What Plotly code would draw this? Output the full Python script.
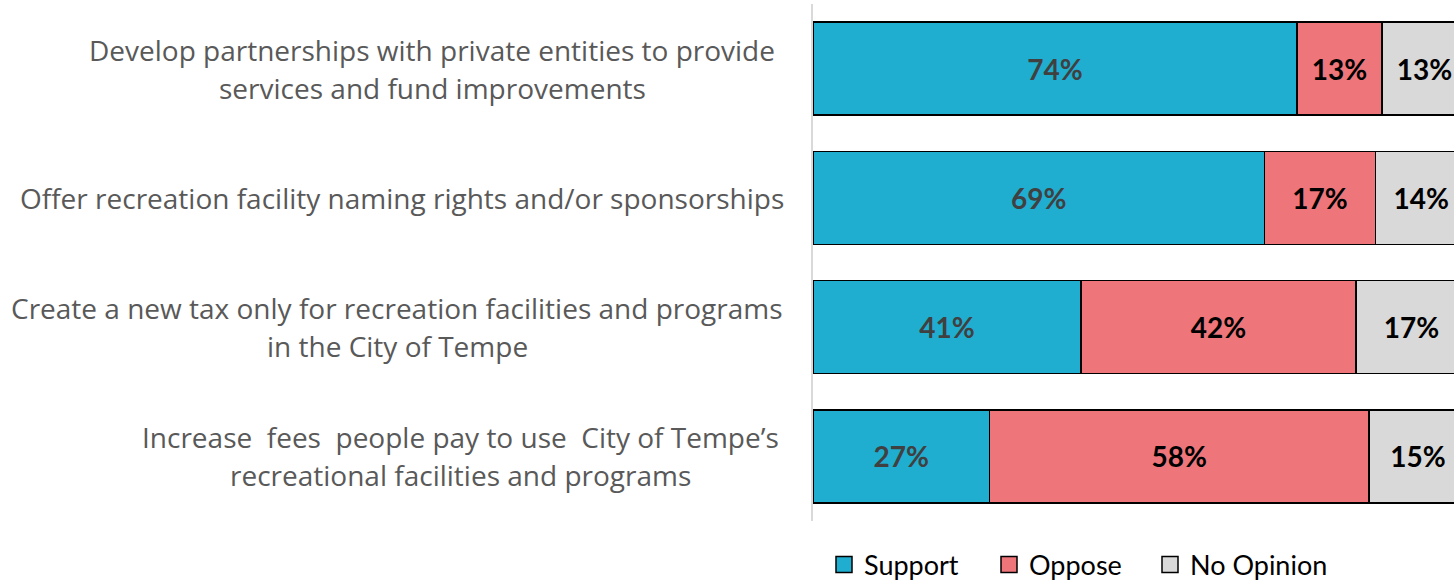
import plotly.graph_objects as go

categories = [
    "Develop partnerships with private entities to provide<br>services and fund improvements",
    "Offer recreation facility naming rights and/or sponsorships",
    "Create a new tax only for recreation facilities and programs<br>in the City of Tempe",
    "Increase\u00a0 fees\u00a0 people pay to use\u00a0 City of Tempe\u2019s<br>recreational facilities and programs",
]
support = [74, 69, 41, 27]
oppose = [13, 17, 42, 58]
no_opinion = [13, 14, 17, 15]
series_names = ["Support", "Oppose", "No Opinion"]

colors = ["#20AED0", "#EE767B", "#D9D9D9"]
text_colors = ["#404040", "#000000", "#000000"]
FONT = "Lato"
LABEL_FONT = "Open Sans"

W, H = 1454, 583
L, R, T, B = 813, 0, 4, 62
plot_w = W - L - R
plot_h = H - T - B

# layout: pixel centre of each category label block, and legend entry x (pixels)
label_centers_px = [432, 402, 397, 460]
legend_x_px = [824, 989, 1150]

ys = list(range(len(categories)))

fig = go.Figure()
legend_names = ["legend", "legend2", "legend3"]
for k, (name, vals, col, tcol) in enumerate(zip(series_names, [support, oppose, no_opinion], colors, text_colors)):
    fig.add_trace(go.Bar(
        y=ys, x=vals, name=name, orientation="h",
        marker=dict(color=col, line=dict(color="#000000", width=1.5)),
        width=0.72,
        text=[f"{v}%" for v in vals],
        textposition="inside", insidetextanchor="middle", textangle=0,
        constraintext="none",
        textfont=dict(family=FONT, size=28, color=tcol, weight="bold"),
        hoverinfo="skip", showlegend=False,
    ))
    fig.add_trace(go.Scatter(
        x=[None], y=[None], mode="markers", name=name,
        marker=dict(symbol="square", size=17, color=col, line=dict(color="#000000", width=1.5)),
        showlegend=True, hoverinfo="skip", legend=legend_names[k],
    ))

annotations = []
for i, cat in enumerate(categories):
    lines = cat.split("<br>")
    n = len(lines)
    for j, line in enumerate(lines):
        off = (j - (n - 1) / 2) * 38
        cx = (label_centers_px[i] - L) / plot_w
        annotations.append(dict(
            x=cx, xref="paper", y=i, yref="y", text=line, showarrow=False,
            xanchor="center", yanchor="middle", yshift=-off,
            font=dict(family=LABEL_FONT, size=28, color="#595959"),
        ))

leg_y = -(565 - (H - B)) / plot_h
legend_common = dict(orientation="h", xanchor="left", y=leg_y, yanchor="middle",
                     font=dict(family=FONT, size=27, color="#000000"),
                     bgcolor="rgba(0,0,0,0)")
layout_legends = {}
for k, ln in enumerate(legend_names):
    layout_legends[ln] = dict(legend_common, x=(legend_x_px[k] - L) / plot_w)

fig.update_layout(
    barmode="stack",
    width=W, height=H,
    margin=dict(l=L, r=R, t=T, b=B, pad=0, autoexpand=False),
    paper_bgcolor="white", plot_bgcolor="white",
    xaxis=dict(range=[0, 98], visible=False, fixedrange=True),
    yaxis=dict(range=[3.5, -0.5], showticklabels=False, showgrid=False, zeroline=False,
               showline=True, linecolor="#D9D9D9", linewidth=2, layer="below traces",
               fixedrange=True),
    showlegend=True,
    annotations=annotations,
    font=dict(family=FONT),
    **layout_legends,
)

fig.write_html("out.html", config={"displayModeBar": False},
               post_script="document.body.style.margin='0';")
